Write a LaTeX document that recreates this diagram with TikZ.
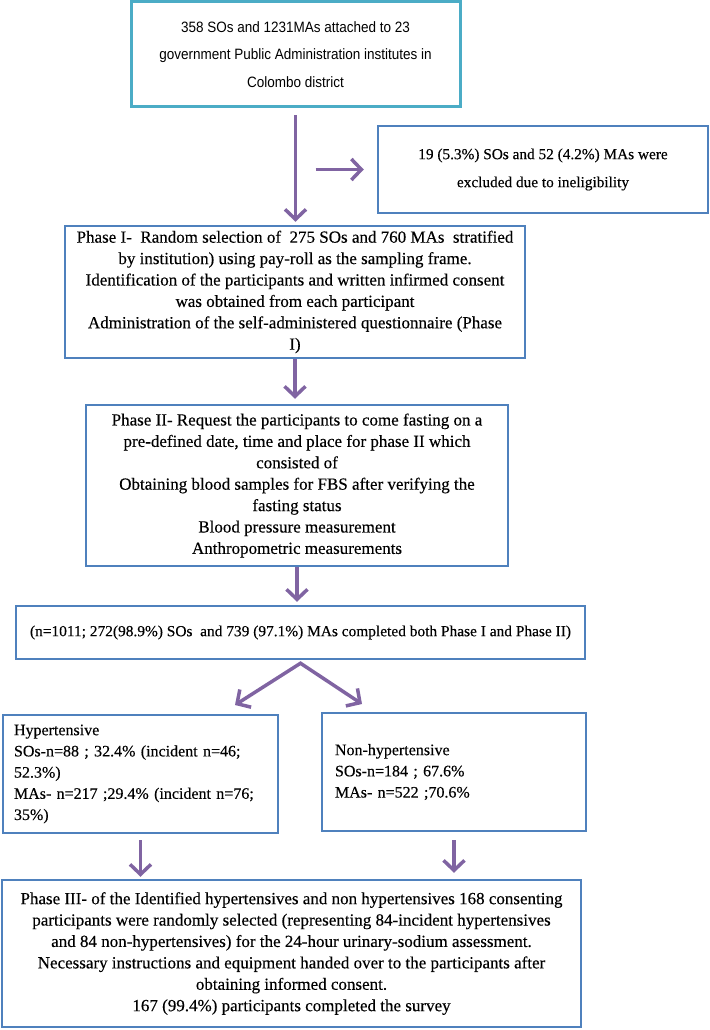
\documentclass[tikz,border=0pt]{standalone}
\usepackage{fontspec}
\setmainfont[FakeBold=0.3]{Liberation Serif}
\newfontfamily\arialfont[FakeStretch=0.9]{Liberation Sans}
\usetikzlibrary{arrows.meta,positioning}
\definecolor{boxblue}{HTML}{4F81BD}
\definecolor{boxteal}{HTML}{4BACC6}
\definecolor{arrowpurple}{HTML}{8064A2}

\begin{document}
\begin{tikzpicture}[x=1pt, y=-1pt,
    >={Straight Barb[length=10pt, width=21pt]},
    stage/.style={rectangle, draw=boxblue, line width=2.5pt, align=center, inner sep=0pt, font=\fontsize{17}{21.4}\selectfont},
    source/.style={stage, draw=boxteal, line width=3pt, font=\arialfont\fontsize{15}{27.5}\selectfont},
    group/.style={stage, align=left, inner xsep=11pt, font=\fontsize{16}{21.2}\selectfont},
    arrow/.style={->, line width=3.5pt, draw=arrowpurple}
]
    \useasboundingbox (0,0) rectangle (709,1030);

    % Population and exclusions
    \node[source, minimum width=329pt, minimum height=105pt] (population) at (295.5,54.5) {358 SOs and 1231MAs attached to 23\\government Public Administration institutes in\\Colombo district};
    \node[stage, minimum width=330pt, minimum height=87pt, font=\fontsize{15.3}{28}\selectfont] (excluded) at (543,169.5) {19 (5.3\%) SOs and 52 (4.2\%) MAs were\\excluded due to ineligibility};

    % Phase I and Phase II
    \node[stage, minimum width=460pt, minimum height=132pt] (phaseone) at (295,292) {Phase I-\ \ Random selection of\ \ 275 SOs and 760 MAs\ \ stratified\\by institution) using pay-roll as the sampling frame.\\Identification of the participants and written infirmed consent\\was obtained from each participant\\Administration of the self-administered questionnaire (Phase\\I)};
    \node[stage, minimum width=422pt, minimum height=161pt] (phasetwo) at (297,485.5) {Phase II- Request the participants to come fasting on a\\pre-defined date, time and place for phase II which\\consisted of\\Obtaining blood samples for FBS after verifying the\\fasting status\\Blood pressure measurement\\Anthropometric measurements};
    \node[stage, minimum width=569pt, minimum height=53pt, font=\fontsize{15.4}{21}\selectfont] (completed) at (300.5,632.5) {(n=1011; 272(98.9\%) SOs\ \ and 739 (97.1\%) MAs completed both Phase I and Phase II)};

    % Hypertension status
    \node[group, text width=253pt, minimum height=118pt] (hyper) at (140.5,774) {Hypertensive\\SOs-n=88 ; 32.4\% (incident n=46;\\52.3\%)\\MAs- n=217 ;29.4\% (incident n=76;\\35\%)};
    \node[group, text width=238pt, inner xsep=13pt, minimum height=118pt] (normo) at (454,772) {Non-hypertensive\\SOs-n=184 ; 67.6\%\\MAs- n=522 ;70.6\%};

    % Phase III
    \node[stage, minimum width=579pt, minimum height=147pt] (phasethree) at (291.5,953.5) {Phase III- of the Identified hypertensives and non hypertensives 168 consenting\\participants were randomly selected (representing 84-incident hypertensives\\and 84 non-hypertensives) for the 24-hour urinary-sodium assessment.\\Necessary instructions and equipment handed over to the participants after\\obtaining informed consent.\\167 (99.4\%) participants completed the survey};

    % Arrows
    \draw[arrow, shorten <=7pt, shorten >=3pt] (population.south) -- (population.south |- phaseone.north);
    \coordinate (branch) at (population.south |- excluded.west);
    \draw[arrow, shorten <=20pt, shorten >=13pt] (branch) -- (excluded.west);
    \draw[arrow, shorten >=5pt] (phaseone.south) -- (phaseone.south |- phasetwo.north);
    \draw[arrow, shorten >=3pt] (phasetwo.south) -- (phasetwo.south |- completed.north);
    \coordinate (fork) at ([yshift=-3pt]completed.south);
    \coordinate (hyperin) at (235,705);
    \coordinate (normoin) at (362,704);
    \draw[arrow, <->] (hyperin) -- (fork) -- (normoin);
    \draw[arrow, shorten <=6pt, shorten >=2pt] (hyper.south) -- (hyper.south |- phasethree.north);
    \draw[arrow, shorten <=8pt, shorten >=6pt] (normo.south) -- (normo.south |- phasethree.north);
\end{tikzpicture}
\end{document}
